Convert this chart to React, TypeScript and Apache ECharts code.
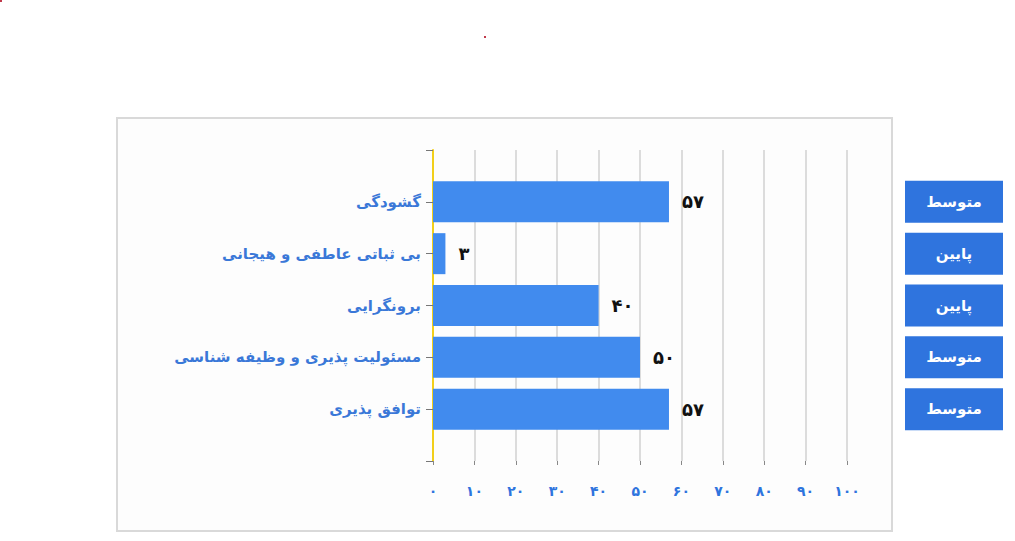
import React, { useEffect, useRef } from "react";
import * as echarts from "echarts";

const categories = ["گشودگی", "بی ثباتی عاطفی و هیجانی", "برونگرایی", "مسئولیت پذیری و وظیفه شناسی", "توافق پذیری"];
const values = [57, 3, 40, 50, 57];
const levels = ["متوسط", "پایین", "پایین", "متوسط", "متوسط"];
const xTicks = [0, 10, 20, 30, 40, 50, 60, 70, 80, 90, 100];

const faDigits = (n: number | string) =>
  String(n).replace(/[0-9]/g, (d) => "۰۱۲۳۴۵۶۷۸۹"[Number(d)]);

const FONT = "DejaVu Sans";

export default function App() {
  const ref = useRef<HTMLDivElement>(null);
  useEffect(() => {
    document.body.style.margin = "0";
    const chart = echarts.init(ref.current!, null, { renderer: "svg" });
    const cats = ["", ...categories, ""];
    const data: any[] = ["-", ...values, "-"];
    const chartTop = 150;
    const chartBottom = 461;
    const step = (chartBottom - chartTop) / (cats.length - 1);
    const boxes = levels.map((lv, i) => {
      const cy = chartTop + step * (i + 1);
      return {
        type: "group",
        children: [
          { type: "rect", shape: { x: 905, y: cy - 21, width: 98, height: 42 }, style: { fill: "#2f74de" } },
          {
            type: "text",
            x: 954,
            y: cy,
            style: { text: lv, fill: "#ffffff", font: `bold 15px '${FONT}'`, textAlign: "center", textVerticalAlign: "middle" },
          },
        ],
      };
    });
    chart.setOption({
      animation: false,
      graphic: [
        { type: "rect", z: -10, shape: { x: 117, y: 118, width: 775, height: 413 }, style: { fill: "#fdfdfd", stroke: "#d9d9d9", lineWidth: 2 } },
        { type: "rect", shape: { x: 0, y: 0, width: 2, height: 2 }, style: { fill: "#c0394b" } },
        { type: "rect", shape: { x: 484, y: 36, width: 2, height: 2 }, style: { fill: "#c0394b" } },
        ...boxes,
      ],
      grid: { left: 433, right: 168, top: chartTop, bottom: 541 - chartBottom, containLabel: false },
      xAxis: {
        type: "value",
        min: 0,
        max: 100,
        interval: 10,
        axisLine: { show: false },
        axisTick: { show: true, length: 4, lineStyle: { color: "#888" } },
        splitLine: { show: true, lineStyle: { color: "#dcdcdc", width: 2 } },
        axisLabel: {
          margin: 23,
          color: "#2f74de",
          fontFamily: FONT,
          fontSize: 14,
          fontWeight: "bold",
          formatter: (v: number) => (xTicks.includes(v) ? faDigits(v) : ""),
        },
      },
      yAxis: {
        type: "category",
        data: cats,
        inverse: true,
        boundaryGap: false,
        axisLine: { show: true, lineStyle: { color: "#f2cf1a", width: 2 } },
        axisTick: { show: true, length: 7, lineStyle: { color: "#777" } },
        splitLine: { show: false },
        axisLabel: {
          margin: 12,
          color: "#3a78d8",
          fontFamily: FONT,
          fontSize: 15,
          fontWeight: "bold",
        },
      },
      series: [
        {
          type: "bar",
          data,
          barWidth: 41,
          itemStyle: { color: "#418bee" },
          label: {
            show: true,
            position: "right",
            distance: 13,
            color: "#111",
            fontFamily: FONT,
            fontSize: 18,
            fontWeight: "bold",
            formatter: (p: any) => faDigits(p.value),
          },
        },
      ],
    });
    return () => chart.dispose();
  }, []);
  return <div ref={ref} style={{ width: 1015, height: 541 }} />;
}
